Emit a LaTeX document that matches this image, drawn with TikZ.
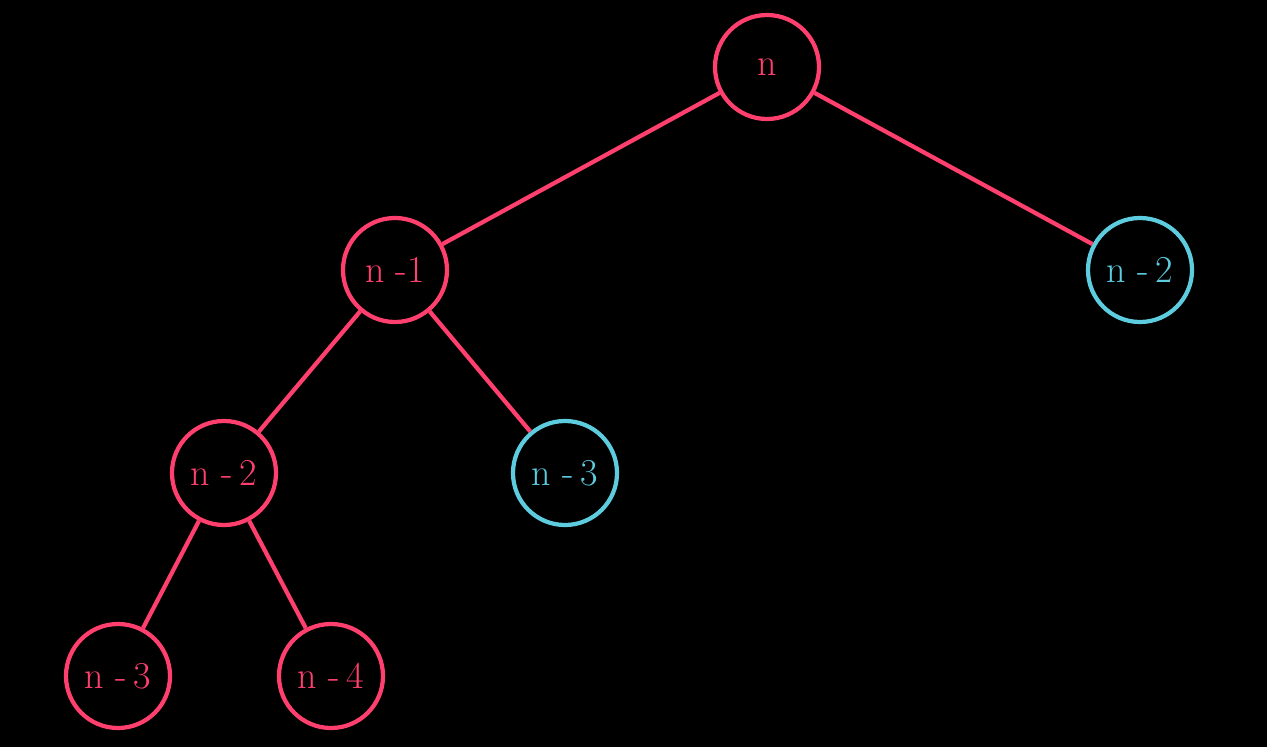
\documentclass[tikz,border=0pt]{standalone}
\usepackage{tikz}
\definecolor{treered}{RGB}{255,64,110}
\definecolor{treecyan}{RGB}{92,204,222}
\tikzset{
  every node/.style={circle,draw=treered,text=treered,line width=3pt,minimum size=2.6cm,inner sep=0pt,font=\fontsize{27}{32}\selectfont},
  leaf/.style={draw=treecyan,text=treecyan}
}
\begin{document}
\begin{tikzpicture}[x=0.025cm,y=-0.025cm]
      \fill[black] (0,0) rectangle (1267,747);
      \useasboundingbox (0,0) rectangle (1267,747);
      \draw
        (767,67) node (0){n}
        (395,270) node (1){n -1}
        (1140,270) node[leaf] (2){n -\,2}
        (224,473) node (3){n -\,2}
        (565,473) node[leaf] (4){n -\,3}
        (118,676) node (5){n -\,3}
        (331,676) node (6){n -\,4};
      \begin{scope}[-,draw=treered,line width=3pt]
        \draw (0) to (1);
        \draw (0) to (2);
        \draw (1) to (3);
        \draw (1) to (4);
        \draw (3) to (5);
        \draw (3) to (6);
      \end{scope}
    \end{tikzpicture}
\end{document}
